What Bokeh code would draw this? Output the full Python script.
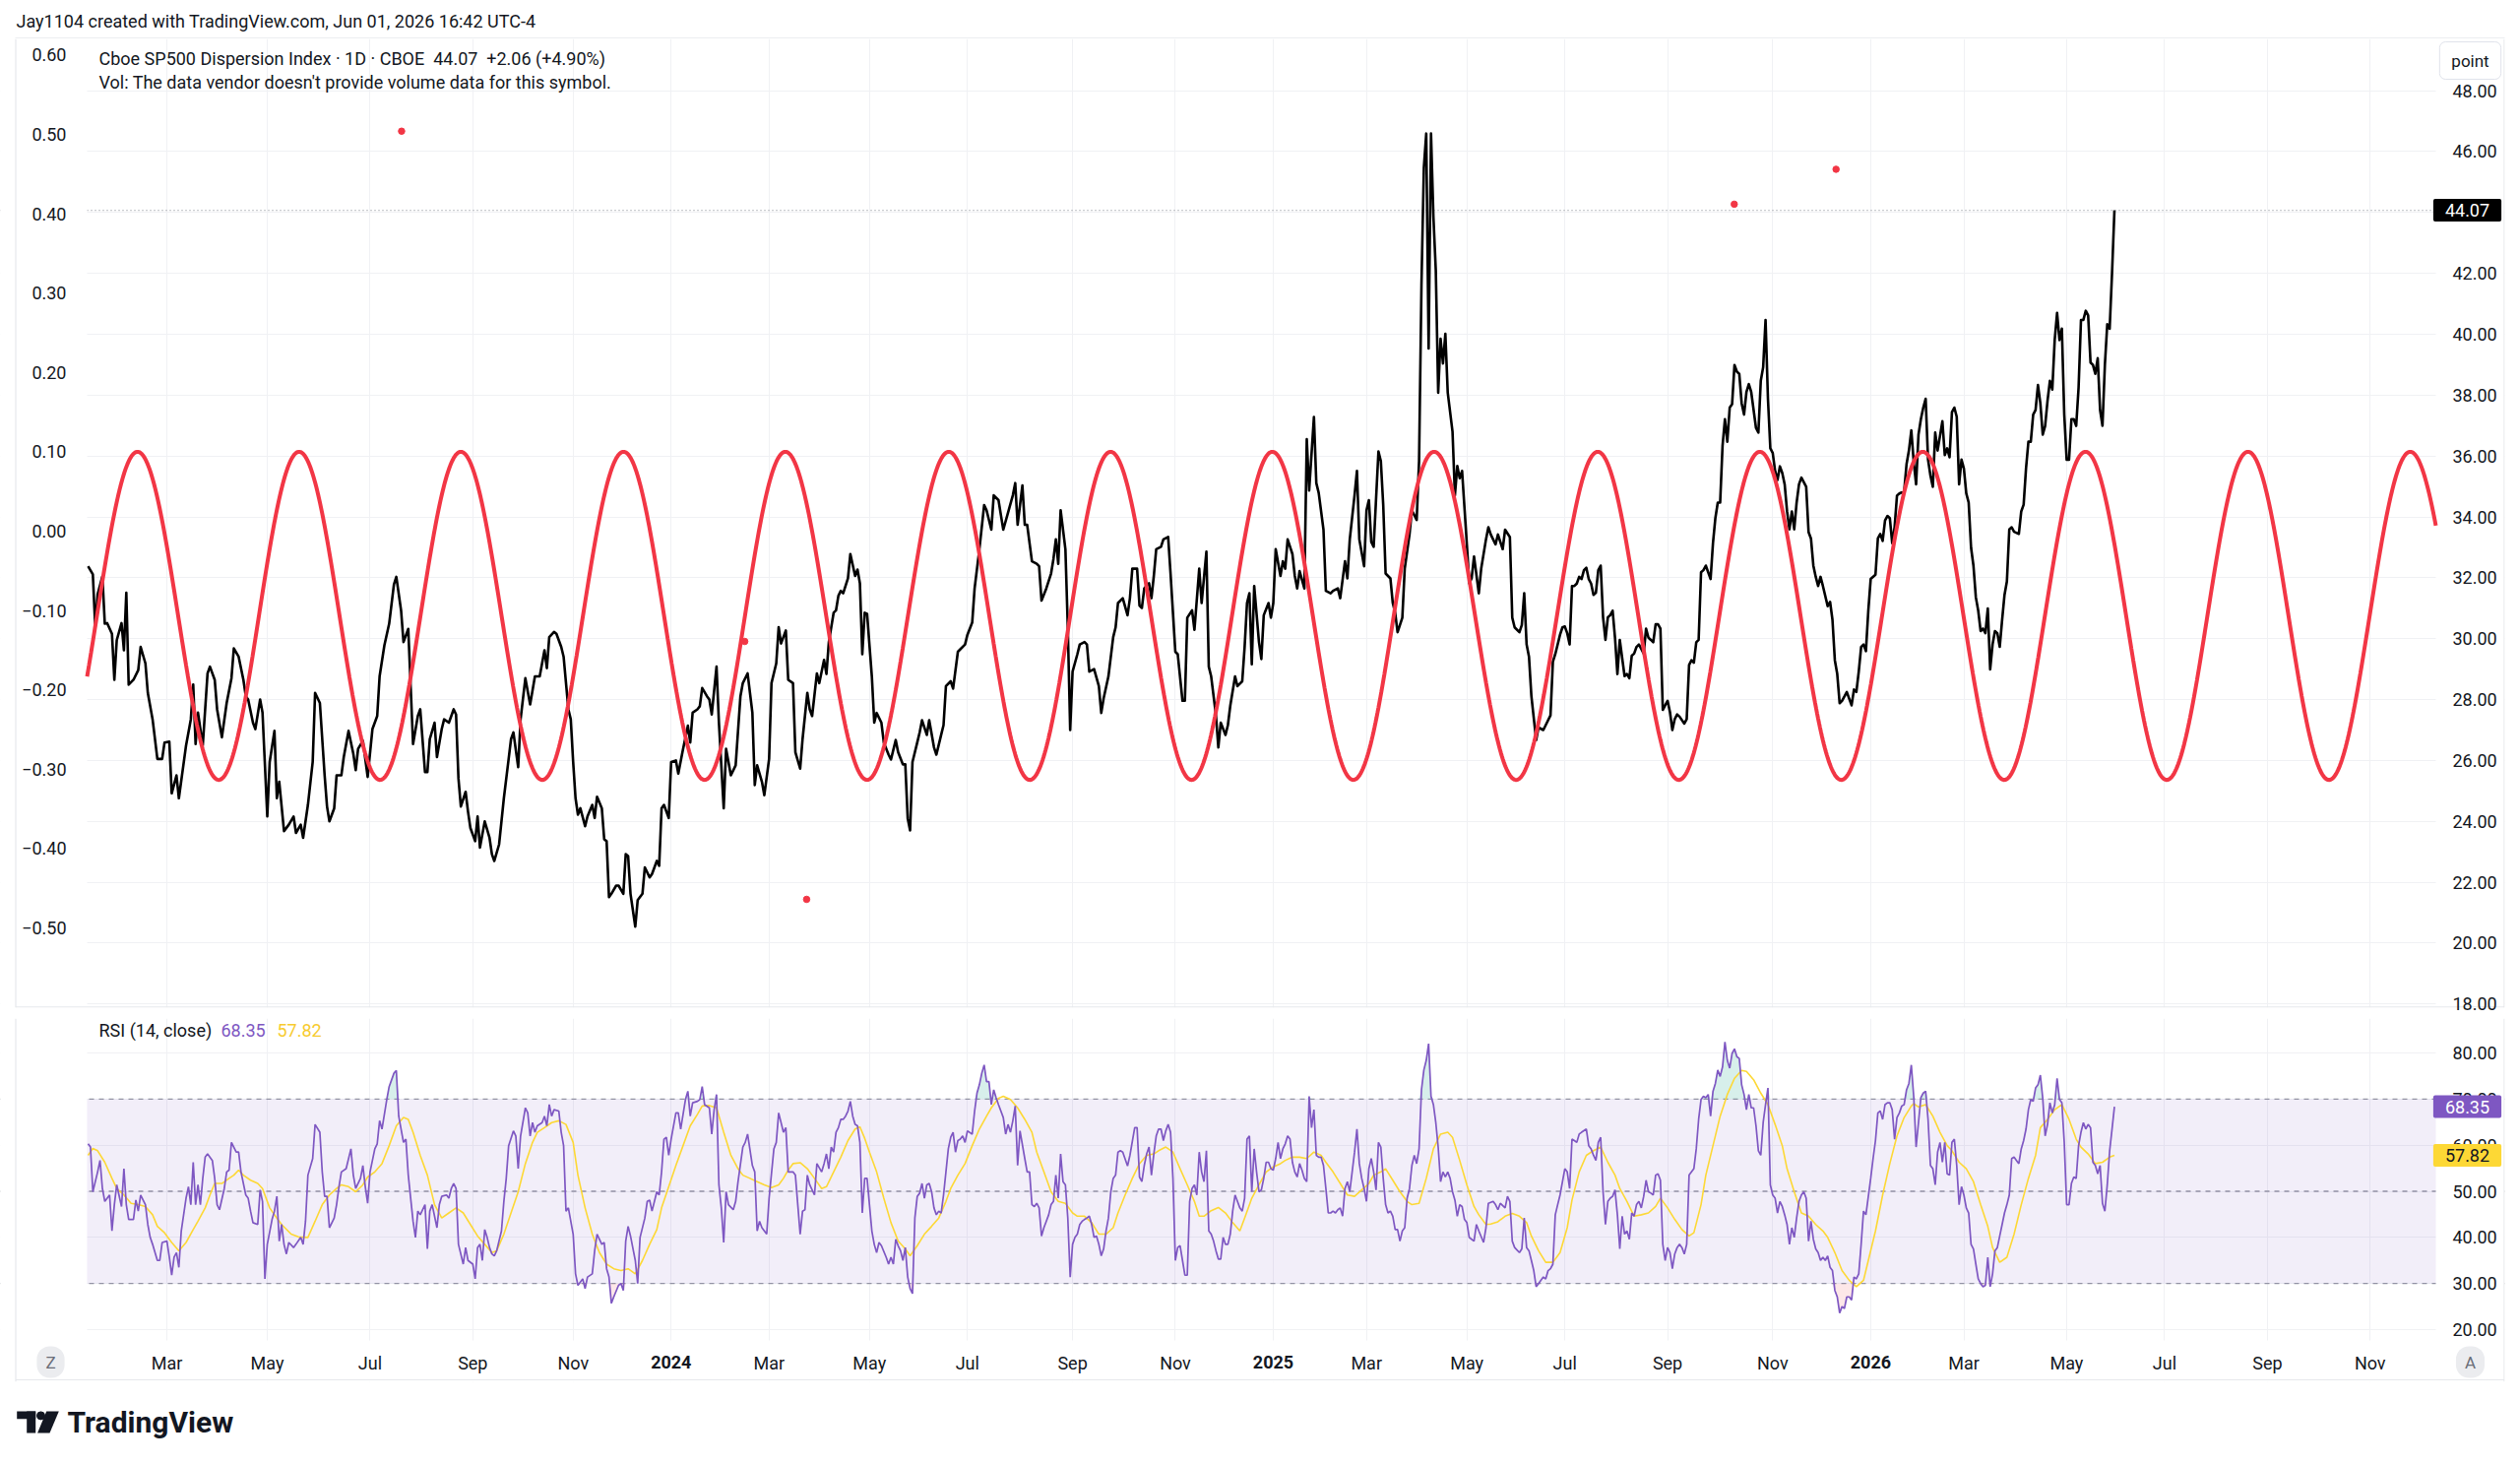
import numpy as np
import pandas as pd
from bokeh.plotting import figure
from bokeh.models import (Range1d, LinearAxis, FixedTicker, CustomJSTickFormatter,
                          NumeralTickFormatter, Span, BoxAnnotation, Label, Grid)
from bokeh.layouts import column
from bokeh.embed import file_html
from bokeh.resources import INLINE

FONT = "Roboto"
INK = "#131722"
GRID = "#F0F1F4"
BORDER = "#E6E8EC"

# ---------------- trading calendar (bar index 0 = first bar) ----------------
first_bar_date = "2023-01-10"
calendar_end = "2026-12-31"
nyse_holidays = [
    "2023-01-16", "2023-02-20", "2023-04-07", "2023-05-29", "2023-06-19", "2023-07-04",
    "2023-09-04", "2023-11-23", "2023-12-25",
    "2024-01-01", "2024-01-15", "2024-02-19", "2024-03-29", "2024-05-27", "2024-06-19",
    "2024-07-04", "2024-09-02", "2024-11-28", "2024-12-25",
    "2025-01-01", "2025-01-09", "2025-01-20", "2025-02-17", "2025-04-18", "2025-05-26",
    "2025-06-19", "2025-07-04", "2025-09-01", "2025-11-27", "2025-12-25",
    "2026-01-01", "2026-01-19", "2026-02-16", "2026-04-03", "2026-05-25", "2026-06-19",
    "2026-07-03", "2026-09-07", "2026-11-26", "2026-12-25",
]
tick_months = ["2023-03", "2023-05", "2023-07", "2023-09", "2023-11",
               "2024-01", "2024-03", "2024-05", "2024-07", "2024-09", "2024-11",
               "2025-01", "2025-03", "2025-05", "2025-07", "2025-09", "2025-11",
               "2026-01", "2026-03", "2026-05", "2026-07", "2026-09", "2026-11"]
tick_labels = ["Mar", "May", "Jul", "Sep", "Nov",
               "2024", "Mar", "May", "Jul", "Sep", "Nov",
               "2025", "Mar", "May", "Jul", "Sep", "Nov",
               "2026", "Mar", "May", "Jul", "Sep", "Nov"]

# ---------------- Cboe SP500 Dispersion Index, daily close (bar, close) ----------------
dspx_points = [
    (1, 32.38), (3, 32.11), (4, 30.38), (5, 31.46), (7, 32.05), (8, 30.49), (9, 30.51), (11, 30.16),
    (12, 28.65), (13, 29.95), (15, 30.51), (16, 29.62), (17, 31.51), (18, 28.49), (20, 28.65),
    (22, 28.97), (23, 29.73), (25, 29.19), (26, 28.22), (28, 27.35), (30, 26.05), (32, 26.05),
    (33, 26.59), (35, 26.62), (36, 24.92), (38, 25.51), (39, 24.76), (42, 26.49), (44, 27.35),
    (45, 28.49), (46, 26.54), (47, 27.57), (49, 26.49), (51, 28.86), (52, 29.08), (54, 28.65),
    (55, 27.68), (57, 26.76), (59, 27.89), (61, 28.70), (62, 29.68), (64, 29.41), (66, 28.65),
    (67, 28.11), (68, 28.00), (70, 27.24), (71, 27.03), (73, 28.00), (74, 27.57), (76, 24.16),
    (77, 25.95), (79, 26.97), (80, 24.76), (81, 25.30), (83, 23.68), (85, 23.89), (87, 24.16),
    (88, 23.62), (90, 23.89), (91, 23.46), (93, 24.54), (95, 25.95), (96, 28.22), (98, 27.89),
    (100, 25.51), (101, 24.49), (102, 24.00), (104, 24.43), (105, 25.51), (107, 25.51), (108, 26.11),
    (110, 26.97), (112, 26.22), (113, 25.68), (114, 26.38), (116, 26.65), (118, 25.46), (120, 27.03),
    (122, 27.46), (123, 28.76), (125, 29.78), (127, 30.49), (129, 31.78), (130, 32.03), (132, 30.92),
    (133, 29.89), (135, 30.32), (136, 28.43), (137, 26.54), (139, 27.46), (140, 27.68), (142, 25.62),
    (143, 25.62), (144, 26.70), (146, 27.24), (147, 26.11), (149, 27.03), (150, 27.35), (152, 27.24),
    (154, 27.68), (155, 27.51), (156, 25.41), (157, 24.49), (159, 24.97), (160, 24.32), (161, 23.78),
    (163, 23.35), (164, 24.16), (165, 23.14), (167, 24.00), (169, 23.46), (170, 22.92), (171, 22.70),
    (173, 23.24), (175, 24.76), (177, 26.05), (178, 26.70), (179, 26.92), (181, 25.78), (182, 27.35),
    (184, 28.70), (186, 27.84), (188, 28.76), (190, 28.76), (192, 29.62), (193, 29.03), (194, 30.05),
    (196, 30.22), (197, 30.16), (199, 29.73), (200, 29.41), (202, 27.68), (203, 27.35), (204, 25.95),
    (205, 24.76), (206, 24.22), (207, 24.43), (209, 23.84), (210, 24.16), (212, 24.54), (213, 24.11),
    (214, 24.81), (216, 24.43), (217, 23.41), (218, 23.35), (219, 21.51), (220, 21.62), (222, 21.89),
    (223, 21.89), (225, 21.62), (226, 22.92), (227, 22.86), (228, 21.62), (230, 20.54), (231, 21.41),
    (233, 21.62), (234, 22.49), (236, 22.16), (237, 22.27), (239, 22.70), (240, 22.54), (241, 24.43),
    (242, 24.54), (244, 24.11), (245, 25.95), (247, 26.00), (248, 25.57), (250, 26.38), (252, 27.14),
    (253, 26.59), (254, 27.57), (256, 27.68), (257, 27.78), (258, 28.38), (260, 28.11), (261, 28.00),
    (262, 27.51), (264, 29.08), (265, 27.24), (267, 24.43), (268, 26.38), (270, 25.51), (272, 25.84),
    (274, 28.11), (275, 28.54), (277, 28.86), (279, 27.57), (280, 25.19), (281, 25.84), (283, 25.30),
    (284, 24.86), (286, 26.05), (287, 28.54), (289, 29.19), (290, 30.38), (291, 29.84), (293, 30.27),
    (294, 28.65), (296, 28.54), (297, 26.27), (299, 25.73), (300, 26.70), (302, 28.22), (303, 27.68),
    (304, 27.46), (306, 28.86), (307, 28.54), (309, 29.30),
    (310, 28.84), (311, 29.89), (313, 30.85), (314, 30.93), (315, 31.41), (316, 31.57), (317, 31.49),
    (319, 31.98), (320, 32.78), (322, 32.06), (323, 32.27), (324, 31.82), (325, 29.49), (326, 30.85),
    (327, 30.82), (329, 28.76), (330, 27.24), (331, 27.56), (333, 27.24), (334, 26.59), (336, 26.19),
    (337, 26.03), (339, 26.67), (340, 26.27), (342, 25.87), (343, 25.87), (344, 24.10), (345, 23.70),
    (346, 25.95), (348, 26.59), (349, 26.92), (350, 27.32), (352, 26.84), (353, 27.32), (355, 26.43),
    (356, 26.19), (358, 26.84), (359, 27.16), (360, 28.44), (362, 28.60), (363, 28.36), (365, 29.57),
    (366, 29.65), (368, 29.81), (369, 30.13), (371, 30.53), (372, 31.65), (374, 32.94), (376, 34.39),
    (377, 34.22), (379, 33.58), (380, 34.71), (382, 34.55), (383, 34.06), (384, 33.58), (386, 34.14),
    (388, 34.71), (389, 35.11), (390, 33.74), (392, 35.03), (393, 33.74), (394, 33.74), (396, 32.54),
    (398, 32.46), (399, 32.38), (400, 31.25), (402, 31.65), (404, 32.14), (405, 32.62), (406, 33.26),
    (407, 32.46), (408, 34.22), (410, 32.94), (411, 30.37), (412, 27.00), (413, 28.92), (415, 29.49),
    (416, 29.81), (418, 29.89), (419, 29.81), (420, 28.92), (422, 29.00), (424, 28.44), (425, 27.56),
    (426, 28.04), (428, 28.76), (430, 30.05), (431, 30.37), (432, 31.17), (434, 31.33), (436, 30.77),
    (437, 31.33), (438, 32.30), (440, 32.30), (441, 31.09), (442, 31.01), (443, 31.65), (445, 31.82),
    (446, 31.33), (447, 32.06), (448, 32.94), (450, 33.02), (451, 33.26), (453, 33.34), (454, 32.14),
    (455, 30.85), (456, 29.57), (457, 29.49), (459, 27.96), (460, 27.96), (461, 30.69), (463, 30.93),
    (464, 30.29), (466, 32.30), (467, 31.17), (469, 32.86), (470, 29.08), (471, 28.76), (473, 27.48),
    (474, 26.43), (475, 27.24), (477, 26.84), (478, 27.16), (479, 27.80), (481, 28.76), (482, 28.44),
    (484, 28.60), (485, 29.73), (486, 31.17), (487, 31.49), (488, 29.16), (489, 31.73), (491, 29.89),
    (492, 29.33), (493, 30.77), (495, 31.17), (496, 30.69), (497, 31.17), (498, 32.94), (500, 32.06),
    (501, 32.54), (502, 32.30), (503, 33.26), (505, 32.78), (506, 32.06), (507, 31.65), (508, 32.22),
    (510, 31.65), (511, 36.55), (512, 34.87), (514, 37.28), (515, 35.11), (516, 34.79), (518, 33.58),
    (519, 31.57), (521, 31.49), (522, 31.57), (524, 31.65), (525, 31.33), (527, 32.54), (528, 31.98),
    (529, 33.26), (531, 34.71), (532, 35.51), (533, 33.26), (535, 32.38), (536, 34.22), (537, 34.55),
    (538, 33.18), (539, 33.02), (541, 36.15), (542, 35.83), (543, 34.39), (544, 32.14), (546, 31.98),
    (547, 31.17), (548, 30.85), (549, 30.21), (551, 30.69), (552, 32.30), (554, 33.42), (555, 34.22),
    (557, 33.90), (558, 35.83), (559, 41.61), (560, 45.47), (561, 46.59), (562, 39.53), (563, 46.59),
    (564, 43.86), (565, 42.10), (566, 38.08), (567, 39.85), (568, 39.04), (569, 40.01), (570, 38.08),
    (572, 36.80), (573, 34.71), (574, 35.67), (575, 35.27), (576, 35.51), (578, 33.10), (579, 31.82),
    (580, 31.98), (581, 32.70), (583, 31.49), (584, 32.30), (586, 33.26), (587, 33.66), (588, 33.42),
    (590, 33.10), (591, 33.42), (593, 32.94), (594, 33.58), (596, 33.34), (597, 30.69), (598, 30.37),
    (600, 30.21), (601, 30.45), (602, 31.49), (603, 29.81), (604, 29.41), (605, 28.12), (607, 26.67),
    (608, 27.08), (610, 27.00), (611, 27.16), (613, 27.48), (614, 29.24), (615, 29.49), (617, 30.13),
    (618, 30.37),
    (619, 30.40), (620, 30.18), (621, 29.81), (622, 31.73), (623, 31.73), (624, 31.81), (625, 32.03),
    (626, 31.96), (627, 32.25), (628, 32.33), (629, 31.96), (630, 31.81), (631, 31.44), (632, 31.51),
    (633, 32.25), (634, 32.40), (635, 30.70), (636, 29.96), (637, 30.70), (638, 30.77), (639, 30.92),
    (640, 30.03), (641, 28.84), (642, 29.96), (643, 29.36), (644, 28.77), (645, 28.84), (646, 28.70),
    (647, 29.44), (648, 29.51), (649, 29.73), (650, 29.81), (651, 29.66), (652, 29.51), (653, 30.33),
    (654, 30.03), (655, 29.96), (656, 29.88), (657, 30.47), (658, 30.47), (659, 30.33), (660, 27.66),
    (661, 27.81), (662, 27.96), (663, 27.59), (664, 27.00), (665, 27.36), (666, 27.51), (667, 27.44),
    (669, 27.21), (670, 27.36), (671, 29.14), (672, 29.29), (673, 29.21), (674, 29.88), (675, 29.96),
    (676, 32.18), (677, 32.25), (678, 32.40), (680, 31.96), (681, 33.14), (682, 33.96), (683, 34.47),
    (684, 34.47), (685, 36.33), (686, 37.21), (687, 36.47), (688, 37.59), (689, 37.70), (690, 38.99),
    (691, 38.77), (692, 38.70), (693, 37.73), (694, 37.36), (695, 38.10), (696, 38.36), (697, 38.10),
    (699, 36.92), (700, 36.77), (701, 38.47), (702, 38.92), (703, 40.47), (704, 37.88), (705, 36.25),
    (706, 36.10), (707, 35.51), (708, 35.21), (709, 35.66), (710, 35.44), (711, 35.07), (712, 34.18),
    (713, 33.59), (714, 34.18), (715, 33.59), (716, 34.47), (717, 35.07), (718, 35.29), (720, 34.99),
    (721, 33.50), (722, 33.29), (723, 32.40), (724, 32.03), (725, 31.73), (726, 32.03), (727, 31.73),
    (729, 31.07), (730, 31.21), (731, 30.62), (732, 29.29), (733, 28.84), (734, 27.88), (735, 27.96),
    (736, 28.10), (737, 28.25), (738, 28.03), (739, 27.81), (740, 28.33), (741, 28.25), (742, 28.92),
    (743, 29.73), (744, 29.81), (745, 29.59), (746, 30.92), (747, 31.96), (749, 32.10), (750, 33.29),
    (751, 33.44), (752, 33.21), (753, 33.88), (754, 34.03), (755, 33.96), (756, 33.14), (757, 33.66),
    (758, 34.70), (759, 34.77), (761, 34.84), (762, 35.73), (763, 36.18), (764, 36.84), (765, 35.81),
    (766, 35.07), (767, 36.70), (768, 37.21), (769, 37.59), (770, 37.88), (771, 35.88), (772, 35.36),
    (773, 34.99), (774, 36.77), (775, 36.18), (777, 37.14), (778, 36.03), (779, 36.25), (780, 35.96),
    (781, 37.44), (782, 37.59), (783, 37.29), (784, 35.07), (785, 35.88), (786, 35.59), (787, 34.77),
    (788, 34.47), (789, 32.99), (790, 32.40), (791, 31.36), (792, 30.92), (793, 30.25), (794, 30.33),
    (795, 30.18), (796, 30.99), (797, 28.99), (798, 29.81), (799, 30.25), (800, 30.18), (801, 29.73),
    (802, 30.62), (803, 31.44), (804, 31.88), (805, 33.59), (806, 33.66), (807, 33.51), (809, 33.44),
    (810, 34.18), (811, 34.40), (812, 35.59), (813, 36.47), (814, 36.47), (815, 37.36), (816, 37.51),
    (817, 38.33), (818, 37.73), (819, 36.70), (820, 36.99), (821, 37.81), (822, 38.47), (823, 38.18),
    (824, 39.81), (825, 40.70), (826, 39.81), (827, 40.18), (828, 37.36), (829, 35.88), (830, 35.88),
    (831, 37.21), (832, 37.21), (833, 36.99), (834, 38.25), (835, 40.47), (836, 40.47), (837, 40.77),
    (838, 40.62), (839, 39.07), (840, 38.99), (841, 38.70), (842, 39.21), (843, 37.51), (844, 36.99),
    (845, 38.99), (846, 40.33), (847, 40.18), (848, 42.01), (849, 44.07),
]
last_close = 44.07
last_change = "+2.06"
last_change_pct = "+4.90%"

# ---------------- red cycle indicator (left scale) ----------------
cycle_peak_bar = [21.7, 89.3, 157.0, 225.1, 292.8, 361.2, 428.9, 496.6, 564.3, 632.8,
                  700.6, 768.8, 836.9, 904.9, 972.8]
cycle_trough_bar = [-12.3, 55.7, 123.2, 191.1, 259.0, 327.0, 395.1, 462.8, 530.5, 598.6,
                    666.7, 734.7, 802.9, 870.9, 938.8, 1006.8]
cycle_high = 0.10
cycle_low = -0.3135
signal_bar = [132.2, 275.8, 301.7, 689.9, 732.5]
signal_value = [0.504, -0.139, -0.464, 0.412, 0.456]

# ---------------- RSI (14, close) and its moving average ----------------
rsi_points = [
    (1, 60.3), (2, 59.6), (3, 49.9), (5, 54.2), (6, 56.7), (7, 50.6), (8, 47.8), (10, 49.2), (11, 41.4),
    (12, 47.1), (13, 51.4), (15, 46.7), (16, 54.9), (17, 47.1), (18, 43.9), (20, 43.9), (21, 48.1),
    (22, 45.7), (23, 49.2), (25, 47.1), (26, 42.8), (27, 40.0), (28, 38.5), (30, 35.0), (31, 35.0),
    (32, 38.9), (34, 39.2), (35, 35.7), (36, 31.8), (37, 35.7), (38, 36.7), (39, 33.5), (40, 41.4),
    (42, 48.5), (43, 51.0), (44, 47.1), (45, 56.3), (46, 47.1), (47, 51.4), (48, 47.1), (49, 52.8),
    (50, 57.4), (51, 58.1), (53, 56.7), (54, 52.8), (55, 47.1), (56, 46.0), (58, 50.6), (59, 54.2),
    (60, 54.6), (61, 60.6), (63, 58.5), (64, 58.5), (65, 54.2), (67, 49.2), (68, 48.5), (69, 45.7),
    (70, 43.2), (72, 42.8), (73, 50.3), (74, 47.8), (75, 31.0), (76, 38.5), (78, 43.9), (79, 45.7),
    (80, 48.9), (81, 39.2), (82, 42.8), (83, 38.5), (84, 36.4), (85, 38.9), (87, 37.8), (88, 38.5),
    (90, 40.0), (91, 38.5), (92, 43.5), (93, 53.5), (95, 57.1), (96, 64.5), (98, 62.8), (99, 54.2),
    (100, 48.9), (101, 48.9), (102, 42.1), (104, 44.2), (105, 47.1), (106, 51.0), (107, 54.2),
    (109, 54.9), (111, 59.2), (112, 53.5), (113, 50.6), (115, 52.8), (116, 55.6), (117, 51.0),
    (118, 47.4), (119, 54.2), (121, 59.2), (122, 60.3), (123, 65.3), (124, 63.5), (126, 69.9),
    (127, 72.7), (129, 75.6), (130, 76.2), (131, 66.3), (133, 60.6), (134, 61.3), (135, 53.5),
    (137, 43.5), (138, 40.0), (139, 45.7), (140, 44.9), (142, 47.1), (143, 37.5), (144, 45.7),
    (145, 47.1), (147, 42.1), (148, 47.1), (149, 48.9), (151, 49.2), (152, 48.5), (153, 50.6),
    (154, 51.7), (155, 50.6), (156, 38.5), (158, 34.2), (159, 37.8), (160, 35.0), (162, 34.2),
    (163, 31.0), (164, 37.8), (165, 38.5), (166, 35.0), (167, 41.7), (168, 40.0), (169, 37.8),
    (170, 36.4), (171, 36.0), (172, 37.1), (174, 41.4), (175, 47.8), (176, 52.8), (177, 59.9),
    (179, 63.1), (180, 62.0), (181, 54.9), (182, 62.0), (184, 68.1), (185, 67.0), (186, 62.0),
    (187, 64.9), (188, 62.8), (189, 64.2), (191, 64.9), (192, 66.3), (193, 64.2), (194, 68.8),
    (195, 66.3), (196, 67.7), (198, 67.4), (199, 62.8), (200, 59.9), (201, 45.7), (202, 46.4),
    (204, 40.7), (205, 32.1), (206, 29.6), (208, 31.0), (209, 28.9), (210, 31.4), (212, 32.1),
    (213, 37.1), (214, 40.7), (216, 38.5), (217, 38.9), (218, 33.2), (219, 31.4), (220, 25.7),
    (221, 27.1), (223, 29.6), (224, 30.0), (225, 28.5), (226, 39.2), (227, 42.4), (228, 40.3),
    (230, 35.0), (231, 30.0), (232, 40.0), (234, 44.2), (235, 47.8), (236, 48.1), (237, 45.7),
    (239, 49.9), (240, 49.2), (241, 54.2), (242, 61.3), (243, 61.7), (244, 57.8), (245, 61.3),
    (247, 67.0), (248, 67.0), (249, 63.5), (251, 69.9), (252, 71.7), (253, 66.3), (254, 69.2),
    (256, 69.5), (257, 69.9), (258, 72.7), (259, 68.8), (261, 68.1), (262, 62.4), (263, 67.7),
    (264, 71.0), (265, 51.4), (266, 46.4), (267, 38.9), (268, 49.9), (269, 47.1), (271, 46.0),
    (272, 47.8), (273, 52.1), (275, 59.6), (276, 60.6), (277, 62.4), (279, 55.6), (280, 54.2),
    (281, 41.4), (282, 43.5), (283, 42.1), (285, 40.7), (286, 48.5), (288, 59.2), (289, 60.6),
    (290, 67.0), (292, 62.8), (293, 63.8),
    (294, 54.2), (296, 54.2), (297, 53.5), (298, 47.1), (299, 40.7), (300, 45.7), (301, 46.0),
    (302, 53.5), (303, 51.4), (305, 49.2), (306, 56.0), (308, 54.2), (309, 56.0), (310, 58.1),
    (311, 54.9), (312, 59.6), (313, 58.5), (314, 62.8), (315, 63.8), (316, 65.6), (317, 65.6),
    (318, 66.3), (319, 67.4), (320, 69.5), (321, 66.3), (322, 64.5), (323, 64.2), (324, 60.6),
    (325, 45.3), (326, 52.8), (327, 52.8), (328, 47.1), (329, 41.4), (330, 38.5), (331, 36.7),
    (332, 38.9), (333, 38.2), (335, 35.7), (336, 34.2), (337, 35.7), (338, 34.2), (339, 39.6),
    (340, 38.2), (341, 37.1), (342, 35.0), (343, 37.8), (344, 31.4), (345, 28.9), (346, 27.8),
    (347, 44.2), (348, 48.9), (349, 49.6), (350, 51.7), (351, 48.5), (352, 51.4), (353, 51.7),
    (354, 49.9), (355, 46.4), (356, 44.9), (357, 45.7), (358, 45.3), (359, 49.2), (360, 54.2),
    (361, 59.2), (362, 61.7), (363, 62.8), (364, 58.5), (365, 61.0), (366, 61.3), (367, 62.0),
    (368, 60.6), (369, 63.1), (371, 62.4), (372, 67.4), (373, 71.3), (374, 73.1), (375, 75.6),
    (376, 77.4), (377, 73.8), (378, 73.8), (379, 68.8), (380, 72.0), (381, 70.3), (382, 68.8),
    (384, 66.0), (385, 62.4), (386, 64.5), (387, 62.8), (388, 65.3), (389, 68.5), (390, 55.6),
    (391, 63.1), (393, 57.1), (394, 54.2), (395, 54.2), (396, 47.1), (397, 46.7), (398, 47.4),
    (399, 46.4), (400, 40.3), (401, 42.1), (402, 43.5), (403, 44.9), (404, 47.1), (405, 47.8),
    (406, 53.5), (407, 48.5), (408, 58.1), (409, 52.1), (410, 51.4), (411, 44.2), (412, 31.4),
    (413, 38.5), (414, 40.0), (415, 40.7), (416, 42.8), (417, 43.5), (418, 43.9), (419, 44.2),
    (420, 44.6), (421, 42.8), (422, 40.0), (423, 40.3), (424, 38.5), (425, 36.0), (426, 37.5),
    (427, 41.4), (428, 44.2), (429, 49.9), (430, 52.8), (431, 53.5), (432, 58.5), (433, 58.8),
    (434, 58.5), (436, 55.5), (437, 57.8), (439, 63.8), (440, 63.8), (441, 53.1), (442, 52.1),
    (443, 55.6), (444, 58.1), (445, 59.6), (446, 53.5), (447, 58.1), (448, 62.0), (449, 63.5),
    (450, 63.5), (451, 61.0), (452, 63.1), (453, 64.5), (454, 62.8), (455, 52.8), (456, 35.0),
    (457, 37.8), (458, 38.2), (459, 35.0), (460, 31.8), (461, 31.8), (462, 47.8), (463, 50.6),
    (464, 51.4), (465, 49.2), (466, 58.5), (467, 54.2), (468, 52.1), (469, 58.8), (470, 41.4),
    (471, 40.7), (472, 39.2), (473, 37.1), (474, 35.3), (475, 35.3), (476, 40.0), (477, 38.5),
    (478, 38.5), (479, 40.7), (480, 45.7), (481, 49.2), (482, 47.8), (483, 46.4), (484, 45.7),
    (485, 48.5), (486, 61.3), (487, 62.0), (488, 49.9), (489, 59.2), (490, 54.2), (491, 49.9),
    (492, 50.3), (493, 52.8), (494, 56.3), (495, 56.3), (496, 54.9), (497, 54.6), (498, 57.1),
    (499, 60.6), (500, 57.1), (501, 59.2), (502, 60.3), (503, 62.0), (504, 61.3), (505, 56.3),
    (506, 54.2), (507, 53.1), (508, 56.0), (509, 54.6), (510, 52.8), (511, 52.1), (512, 70.6),
    (513, 63.8), (514, 67.7), (515, 57.8), (516, 57.4), (517, 57.4), (518, 55.6), (519, 50.6),
    (520, 45.3), (521, 45.3), (522, 45.7), (523, 45.3), (524, 46.0), (525, 46.4), (526, 44.6),
    (527, 50.6), (528, 52.1), (529, 49.9), (530, 54.2), (531, 58.5), (532, 63.5), (533, 56.0),
    (534, 52.8), (535, 50.6), (536, 47.8), (537, 54.9), (538, 57.1), (539, 54.2), (540, 50.3),
    (541, 60.6), (542, 59.6), (543, 52.8), (544, 47.1), (545, 45.3), (546, 45.7), (547, 44.6),
    (548, 41.7), (549, 41.7), (550, 39.2), (551, 41.4), (552, 42.1), (553, 48.5), (554, 50.6),
    (555, 55.6), (556, 57.8), (557, 56.0), (558, 59.2), (559, 72.0), (560, 76.3), (561, 78.4),
    (562, 82.0), (563, 70.6), (564, 68.8), (565, 64.9), (566, 59.6), (567, 52.1), (568, 54.2),
    (569, 53.1), (570, 54.2), (571, 52.8), (572, 49.9), (573, 48.1), (574, 44.6), (575, 47.1),
    (576, 46.7), (577, 43.9), (578, 43.2), (579, 40.0), (580, 39.6), (581, 39.2), (582, 42.8),
    (583, 41.4), (585, 38.9), (586, 42.1), (587, 47.4), (589, 47.8), (590, 47.1), (591, 46.0),
    (592, 47.4), (594, 46.4), (595, 48.9), (596, 47.8), (597, 39.2), (598, 37.8), (600, 36.7),
    (601, 37.5), (602, 44.2), (603, 37.8), (604, 37.1), (605, 35.0), (606, 32.8), (607, 29.3),
    (608, 30.0), (610, 31.4), (611, 31.0), (612, 32.8), (613, 33.2), (614, 34.2), (615, 44.9),
    (616, 47.1), (617, 49.2), (619, 54.9), (620, 54.2), (621, 50.6), (622, 61.3), (623, 61.0),
    (624, 60.6), (625, 62.4), (626, 62.8), (628, 63.5), (629, 59.9), (630, 59.2), (631, 57.8),
    (632, 56.7), (633, 60.6), (634, 61.7), (635, 49.9), (636, 42.8), (637, 47.8), (638, 48.5),
    (639, 48.9), (640, 50.3), (641, 44.9), (642, 37.5), (643, 44.6), (644, 40.7), (645, 41.4),
    (646, 39.6), (647, 45.3), (648, 44.6), (649, 47.1), (650, 47.8), (651, 46.4), (652, 48.9),
    (653, 52.4), (654, 49.9), (655, 49.6), (656, 49.2), (657, 53.5), (658, 53.8), (659, 52.4),
    (660, 38.5), (661, 35.0), (662, 37.8), (663, 36.7), (664, 33.2), (665, 36.4), (666, 37.8),
    (667, 38.5), (668, 37.8), (669, 36.4), (670, 38.5), (671, 53.5), (672, 54.2), (673, 54.9),
    (674, 59.2), (675, 65.6), (676, 69.9), (677, 70.6), (678, 70.3), (679, 71.0), (680, 66.3),
    (681, 71.7), (682, 73.4), (683, 76.3), (684, 74.9), (685, 77.0), (686, 82.4), (687, 78.4),
    (688, 76.7), (689, 79.9), (690, 80.9), (691, 79.2), (692, 78.8), (693, 73.1), (694, 71.0),
    (695, 67.7), (696, 71.0), (697, 68.1), (698, 68.1), (699, 64.2), (700, 58.8), (701, 57.8),
    (702, 64.9), (703, 68.8), (704, 72.4), (705, 51.4), (706, 49.2), (707, 48.5), (708, 45.3),
    (709, 47.8), (710, 46.7), (711, 44.9), (712, 42.8), (713, 38.5), (714, 42.1), (715, 40.0),
    (716, 44.2), (717, 47.8), (718, 49.2), (719, 49.9), (720, 48.5), (721, 39.2), (722, 43.5),
    (723, 39.6), (724, 37.5), (725, 36.7), (726, 35.0), (727, 35.7), (728, 35.0), (729, 36.0),
    (730, 33.5), (731, 32.8), (732, 28.5), (733, 27.1), (734, 23.6), (735, 25.0), (736, 24.6),
    (737, 27.1), (738, 27.1), (739, 26.4), (740, 31.4), (741, 31.0), (742, 32.1), (743, 38.5),
    (744, 45.7), (745, 44.9), (747, 52.8), (748, 57.1), (749, 61.0), (750, 67.0), (751, 67.4),
    (752, 65.6), (753, 68.8), (754, 69.2), (755, 69.2), (756, 67.7), (757, 61.3), (758, 66.0),
    (759, 67.0), (760, 68.5), (761, 68.8), (762, 72.0), (763, 73.4), (764, 77.4), (765, 70.6),
    (766, 59.6), (767, 64.9), (768, 70.3), (769, 71.3), (770, 71.7), (771, 65.6), (772, 55.6),
    (773, 54.9), (774, 51.4), (775, 58.5), (776, 60.6), (777, 56.3), (778, 60.6), (779, 53.8),
    (780, 53.5), (781, 60.6), (782, 61.3), (783, 55.6), (784, 47.1), (785, 51.0), (786, 49.2),
    (787, 46.4), (788, 45.3), (789, 38.5), (790, 37.5), (791, 34.2), (792, 31.0), (793, 30.0),
    (794, 29.3), (795, 29.6), (796, 35.7), (797, 29.3), (798, 32.1), (799, 37.1), (800, 37.8),
    (801, 40.3), (802, 42.8), (803, 45.3), (804, 47.1), (805, 49.2), (806, 57.1), (807, 57.4),
    (808, 56.7), (809, 56.0), (810, 59.2), (811, 61.0), (812, 63.5), (813, 67.7), (814, 69.9),
    (815, 69.5), (816, 72.4), (817, 73.1), (818, 75.2), (819, 70.2), (820, 62.0), (821, 64.5),
    (822, 69.2), (823, 67.0), (824, 68.8), (825, 74.5), (826, 69.9), (827, 69.2), (828, 60.6),
    (829, 47.1), (830, 47.1), (831, 51.7), (832, 53.1), (833, 52.8), (834, 59.9), (835, 62.8),
    (836, 64.9), (837, 63.5), (838, 64.5), (839, 63.8), (840, 56.3), (841, 55.6), (842, 53.8),
    (843, 55.6), (844, 47.4), (845, 45.7), (846, 51.4), (847, 58.8), (848, 63.5), (849, 68.35),
]
rsi_ma_points = [
    (1, 57.8), (3, 59.3), (5, 58.8), (8, 56.3), (11, 52.8), (13, 50.6), (16, 49.2), (19, 47.4),
    (22, 47.1), (25, 46.7), (28, 44.9), (30, 42.4), (33, 41.0), (36, 38.9), (39, 37.1), (42, 38.9),
    (45, 41.7), (47, 43.5), (50, 46.4), (52, 49.2), (54, 51.7), (57, 51.7), (60, 52.8), (62, 53.5),
    (64, 54.6), (66, 53.5), (69, 52.4), (72, 51.7), (74, 50.6), (77, 46.4), (80, 44.2), (82, 42.8),
    (86, 40.7), (89, 40.1), (93, 40.0), (96, 43.5), (99, 47.1), (102, 49.2), (105, 50.6), (107, 51.4),
    (110, 51.0), (113, 49.9), (116, 51.4), (118, 53.1), (121, 54.2), (124, 56.0), (127, 59.9),
    (130, 64.2), (133, 66.0), (135, 65.6), (137, 62.8), (140, 57.8), (143, 53.5), (146, 47.1),
    (149, 44.2), (152, 45.3), (155, 46.4), (158, 45.3), (161, 42.8), (164, 40.3), (167, 38.5),
    (170, 36.7), (172, 37.1), (175, 40.7), (178, 45.3), (181, 49.9), (184, 56.0), (187, 60.6),
    (189, 62.8), (192, 63.8), (195, 64.9), (198, 65.3), (201, 64.5), (204, 60.6), (206, 53.5),
    (209, 46.4), (212, 40.7), (215, 36.7), (218, 34.2), (221, 33.2), (224, 32.8), (227, 33.2),
    (230, 32.1), (233, 35.0), (236, 38.5), (239, 41.7), (241, 46.4), (244, 51.0), (247, 55.6),
    (250, 59.9), (253, 64.2), (256, 66.7), (258, 68.5), (261, 68.6), (264, 68.1), (267, 62.8),
    (270, 57.8), (273, 54.9), (275, 53.5), (278, 52.8), (281, 52.1), (284, 51.4), (287, 50.8),
    (290, 51.4), (292, 52.8), (294, 54.6), (296, 56.0), (299, 56.2), (302, 54.9), (305, 52.8),
    (308, 50.6), (310, 51.0), (313, 54.2), (316, 57.4), (319, 61.0), (322, 63.5), (324, 64.0),
    (326, 61.5), (328, 58.5), (331, 54.2), (334, 48.5), (337, 43.2), (340, 39.2), (343, 37.5),
    (345, 36.0), (348, 38.2), (351, 40.7), (354, 42.4), (357, 44.2), (360, 47.8), (362, 50.6),
    (365, 53.5), (368, 56.0), (371, 59.9), (374, 63.5), (377, 66.3), (379, 68.1), (382, 70.2),
    (384, 70.6), (387, 69.9), (390, 68.1), (393, 65.6), (396, 62.8), (398, 58.5), (401, 54.2),
    (404, 49.9), (407, 47.8), (410, 47.4), (413, 45.3), (415, 44.6), (418, 44.6), (421, 43.2),
    (424, 40.7), (427, 40.7), (430, 42.1), (432, 45.3), (435, 49.2), (438, 52.8), (441, 56.0),
    (444, 57.8), (447, 58.1), (449, 58.8), (452, 59.6), (455, 58.5), (458, 54.9), (461, 51.4),
    (464, 47.8), (466, 44.6), (468, 44.6), (471, 45.8), (474, 46.5), (477, 45.3), (480, 43.2),
    (483, 41.4), (485, 44.2), (488, 48.5), (491, 51.4), (494, 54.2), (497, 55.3), (500, 56.0),
    (502, 56.7), (505, 57.4), (508, 57.4), (511, 57.1), (514, 58.5), (517, 57.8), (519, 56.3),
    (522, 54.2), (525, 51.7), (528, 49.2), (531, 48.9), (534, 50.3), (537, 51.7), (539, 53.5),
    (542, 54.2), (544, 54.9), (547, 52.4), (550, 49.9), (553, 47.8), (555, 47.1), (558, 47.4),
    (561, 52.8), (564, 59.2), (567, 62.4), (570, 62.8), (572, 61.7), (575, 56.7), (578, 51.4),
    (581, 46.7), (583, 44.9), (586, 42.8), (588, 42.9), (591, 43.4), (594, 44.6), (597, 45.2),
    (600, 44.6), (603, 43.2), (605, 40.3), (608, 37.1), (611, 34.6), (614, 34.6), (617, 36.7),
    (620, 42.1), (622, 48.1), (625, 54.2), (628, 57.8), (631, 58.8), (634, 59.6), (637, 56.3),
    (640, 53.5), (642, 50.6), (645, 47.8), (648, 44.6), (651, 44.9), (654, 45.3), (657, 46.7),
    (659, 48.5), (662, 46.4), (665, 43.9), (668, 41.7), (671, 40.3), (673, 41.0), (676, 47.1),
    (678, 53.5), (681, 59.9), (684, 66.3), (687, 71.0), (690, 74.5), (693, 76.2), (695, 76.0),
    (698, 74.2), (701, 71.3), (704, 68.8), (707, 64.5), (710, 59.9), (712, 54.9), (715, 49.9),
    (718, 45.3), (721, 44.6), (724, 42.8), (727, 41.4), (729, 40.0), (732, 36.7), (735, 32.8),
    (738, 30.7), (741, 29.3), (744, 30.7), (746, 35.0), (749, 41.4), (752, 49.2), (755, 56.0),
    (758, 62.0), (761, 66.0), (764, 68.5), (765, 69.0), (767, 68.3), (770, 68.8), (773, 66.3),
    (776, 62.8), (779, 59.9), (781, 58.8), (784, 56.3), (787, 54.9), (790, 52.1), (793, 47.1),
    (796, 42.4), (798, 37.8), (801, 34.6), (804, 35.7), (807, 40.7), (810, 47.1), (813, 52.8),
    (816, 57.8), (818, 63.8), (821, 65.6), (824, 67.7), (827, 68.8), (830, 65.6), (833, 61.3),
    (835, 59.6), (838, 58.1), (841, 56.0), (844, 56.3), (847, 57.4), (849, 57.82),
]
rsi_last = 68.35
rsi_ma_last = 57.82

price_ticks = [18, 20, 22, 24, 26, 28, 30, 32, 34, 36, 38, 40, 42, 44, 46, 48]
cycle_ticks = [-0.5, -0.4, -0.3, -0.2, -0.1, 0.0, 0.1, 0.2, 0.3, 0.4, 0.5, 0.6]
rsi_ticks = [20, 30, 40, 50, 60, 70, 80]
rsi_levels = [70, 50, 30]

# ---------------- layout constants (pixels) ----------------
PAGE_W = 2560
PLOT_L, PLOT_R, SCALE_R = 88, 2474, 2544           # data area and price-scale edge
BOX_L = 15                                          # outer chart border
X0, XD = 0.6, 983.5                                 # bars visible at data-area edges
BPP = (XD - X0) / (PLOT_R - PLOT_L)                 # bars per pixel
XM1 = XD + (SCALE_R - PLOT_R) * BPP                 # frame right edge (price-scale area)
XF0 = X0 - PLOT_L * BPP                             # frames start at the page edge
XB0 = XF0 + (BOX_L + 0.5) * BPP                     # outer border, left
XB1 = XF0 + (SCALE_R - 0.5) * BPP                   # outer border, right
PY0, PY1 = 17.88, 49.70                             # main pane price range (page y 1023..39)
PRICE_PX = (1023 - 39) / (PY1 - PY0)
PYS = PY0 + 0.6 / PRICE_PX                          # pane separator
CY0, CY1 = -0.6005, 0.6203                          # main pane left (cycle) range
RY0, RY1 = 17.65, 89.40                             # RSI values at page y 1361 and 1025
RSI_PX = (1361 - 1025) / (RY1 - RY0)
RSI_TOP = 1034                                      # RSI figure frame top (page y)
RYT = RY1 - (RSI_TOP - 1025) / RSI_PX
RYF0 = RY0 - (1403 - 1361) / RSI_PX                 # RSI frame includes the time-axis row
RYB = RYF0 + 2.0 / RSI_PX                           # outer border, bottom (page y 1401)

# ---------------- derived ----------------
hol = pd.to_datetime(nyse_holidays)
days = pd.bdate_range(first_bar_date, calendar_end)
days = days[~days.isin(hol)]
tick_bar = [int(np.searchsorted(days.values, np.datetime64(m + "-01"))) for m in tick_months]

dspx_bar, dspx_close = [list(v) for v in zip(*dspx_points)]
rsi_bar, rsi_val = [np.array(v) for v in zip(*rsi_points)]
ma_bar, ma_val = [list(v) for v in zip(*rsi_ma_points)]

ext = sorted([(b, cycle_high) for b in cycle_peak_bar] + [(b, cycle_low) for b in cycle_trough_bar])
ext_x = np.array([e[0] for e in ext]); ext_y = np.array([e[1] for e in ext])
cyc_x = np.linspace(X0, XD, 2400)
seg = np.clip(np.searchsorted(ext_x, cyc_x) - 1, 0, len(ext_x) - 2)
tt = (cyc_x - ext_x[seg]) / (ext_x[seg + 1] - ext_x[seg])
cyc_y = ext_y[seg] + (ext_y[seg + 1] - ext_y[seg]) * (1 - np.cos(np.pi * tt)) / 2


def make_fig(**kw):
    f = figure(output_backend="svg", toolbar_location=None, **kw)
    if "frame_align" in f.properties():
        f.frame_align = False
    f.outline_line_color = None
    f.background_fill_color = "white"
    f.border_fill_color = "white"
    return f


def style_axis(ax, standoff, size="18px"):
    ax.axis_line_color = None
    ax.major_tick_line_color = None
    ax.minor_tick_line_color = None
    ax.major_label_text_font = FONT
    ax.major_label_text_font_size = size
    ax.major_label_text_color = INK
    ax.major_label_standoff = standoff


def add_grids(fig, yticks):
    fig.grid.visible = False
    fig.add_layout(Grid(dimension=0, ticker=FixedTicker(ticks=tick_bar), grid_line_color=GRID,
                        grid_line_width=1, level="underlay"))
    fig.add_layout(Grid(dimension=1, ticker=FixedTicker(ticks=yticks), grid_line_color=GRID,
                        grid_line_width=1, level="underlay"))


def cover(fig, **kw):
    fig.add_layout(BoxAnnotation(fill_color="white", fill_alpha=1, line_color=None,
                                 level="underlay", **kw))


def vborders(fig):
    for xb in (XB0, XB1):
        fig.add_layout(Span(location=xb, dimension="height", line_color=BORDER, line_width=1.2))


def txt(fig, x, y, text, xo=0, yo=0, color=INK, size="18px", align="left", bold=False, **kw):
    fig.add_layout(Label(x=x, y=y, x_offset=xo, y_offset=yo, text=text, text_font=FONT,
                         text_font_size=size, text_color=color, text_align=align,
                         text_baseline="middle", text_font_style="bold" if bold else "normal", **kw))


# ================= header row =================
h = make_fig(width=PAGE_W, height=39, x_range=Range1d(0, PAGE_W), y_range=Range1d(0, 39),
             x_axis_location=None, y_axis_location=None, min_border=0)
h.grid.visible = False
txt(h, 16, 18, "Jay1104 created with TradingView.com, Jun 01, 2026 16:42 UTC-4")
h.segment(x0=[BOX_L], x1=[SCALE_R], y0=[0.6], y1=[0.6], line_color=BORDER, line_width=1.2)

# ================= main pane =================
p = make_fig(width=PAGE_W, height=RSI_TOP - 39, x_range=Range1d(XF0, XM1), y_range=Range1d(PY0, PY1),
             x_axis_location=None, y_axis_location="right",
             min_border_left=0, min_border_right=PAGE_W - SCALE_R, min_border_top=0,
             min_border_bottom=RSI_TOP - 1023)
add_grids(p, price_ticks)
ra = p.yaxis[0]
ra.ticker = FixedTicker(ticks=price_ticks)
ra.formatter = NumeralTickFormatter(format="0.00")
style_axis(ra, 2485 - SCALE_R)

p.extra_y_ranges = {"cycle": Range1d(CY0, CY1)}
la = LinearAxis(y_range_name="cycle", ticker=FixedTicker(ticks=cycle_ticks),
                formatter=CustomJSTickFormatter(code="return (tick < -1e-9 ? '\\u2212' : '') + Math.abs(tick).toFixed(2);"))
style_axis(la, -73)
p.add_layout(la, "left")

p.add_layout(Span(location=last_close, dimension="width", line_color="#9598A1",
                  line_dash="1 3", line_width=1.2, level="underlay"))
cover(p, left=XD)
cover(p, right=X0)
vborders(p)
p.segment(x0=[XB0], x1=[XB1], y0=[PYS], y1=[PYS], line_color=BORDER, line_width=1.2)

p.line(dspx_bar, dspx_close, line_color="#000000", line_width=2.6, line_join="round")
p.line(cyc_x, cyc_y, y_range_name="cycle", line_color="#F23645", line_width=4)
p.scatter(signal_bar, signal_value, y_range_name="cycle", size=6.5, color="#F23645")

txt(p, X0, PY1, "Cboe SP500 Dispersion Index \u00b7 1D \u00b7 CBOE\u00a0\u00a0%.2f\u00a0\u00a0%s (%s)"
    % (last_close, last_change, last_change_pct), xo=12, yo=-20)
txt(p, X0, PY1, "Vol: The data vendor doesn't provide volume data for this symbol.", xo=12, yo=-44)
txt(p, XD, PY1, "point", xo=35, yo=-22, align="center", size="17px",
    background_fill_color="white", border_line_color="#E0E3EB", border_radius=6, padding=(12, 9))
txt(p, XD, last_close, "%.2f" % last_close, xo=32, align="center", color="white",
    background_fill_color="#000000", border_radius=2, padding=(12, 5))

# ================= RSI pane + time axis =================
r = make_fig(width=PAGE_W, height=1405 - RSI_TOP, x_range=Range1d(XF0, XM1), y_range=Range1d(RYF0, RYT),
             y_axis_location="right",
             min_border_left=0, min_border_right=PAGE_W - SCALE_R, min_border_top=0, min_border_bottom=2)
add_grids(r, rsi_ticks)
rra = r.yaxis[0]
rra.ticker = FixedTicker(ticks=rsi_ticks)
rra.formatter = NumeralTickFormatter(format="0.00")
style_axis(rra, 2485 - SCALE_R)
xa = r.xaxis[0]
xa.ticker = FixedTicker(ticks=tick_bar)
xa.major_label_overrides = {b: ("" if lab.isdigit() else lab) for b, lab in zip(tick_bar, tick_labels)}
style_axis(xa, -36)

for lv in rsi_levels:
    r.add_layout(Span(location=lv, dimension="width", line_color="#9598A1", line_dash="5 5",
                      line_width=1.4, level="underlay"))
cover(r, left=XD)
cover(r, right=X0)
cover(r, top=RY0)
r.add_layout(BoxAnnotation(left=X0, right=XD, bottom=30, top=70, fill_color="#7E57C2", fill_alpha=0.1,
                           line_color=None, level="underlay"))
vborders(r)
r.segment(x0=[XB0], x1=[XB1], y0=[RYB], y1=[RYB], line_color=BORDER, line_width=1.2)

r.varea(rsi_bar, np.maximum(rsi_val, 70), 70, fill_color="#089981", fill_alpha=0.16)
r.varea(rsi_bar, np.minimum(rsi_val, 30), 30, fill_color="#F23645", fill_alpha=0.12)
r.line(ma_bar, ma_val, line_color="#FDD835", line_width=1.6)
r.line(list(rsi_bar), list(rsi_val), line_color="#7E57C2", line_width=1.7)

txt(r, X0, RYT, "RSI (14, close)", xo=12, yo=-(1046 - RSI_TOP))
txt(r, X0, RYT, "%.2f" % rsi_last, xo=136, yo=-(1046 - RSI_TOP), color="#7E57C2")
txt(r, X0, RYT, "%.2f" % rsi_ma_last, xo=193, yo=-(1046 - RSI_TOP), color="#F7CB2F")
txt(r, XD, rsi_last, "%.2f" % rsi_last, xo=32, align="center", color="white",
    background_fill_color="#7E57C2", border_radius=2, padding=(12, 5))
txt(r, XD, rsi_ma_last, "%.2f" % rsi_ma_last, xo=32, align="center", color=INK,
    background_fill_color="#FDD835", border_radius=2, padding=(12, 5))

for b, lab in zip(tick_bar, tick_labels):
    if lab.isdigit():
        txt(r, b, RY0, lab, yo=-22, align="center", bold=True)
txt(r, X0, RY0, "Z", xo=51 - PLOT_L, yo=-22, align="center", color="#6A6D78", size="17px",
    background_fill_color="#EBECEF", border_radius=13, padding=(9, 6))
txt(r, XD, RY0, "A", xo=2509 - PLOT_R, yo=-22, align="center", color="#6A6D78", size="17px",
    background_fill_color="#EBECEF", border_radius=13, padding=(9, 6))

# ================= footer logo =================
g = make_fig(width=PAGE_W, height=70, x_range=Range1d(0, PAGE_W), y_range=Range1d(0, 70),
             x_axis_location=None, y_axis_location=None, min_border=0)
g.grid.visible = False
g.quad(left=[16.7, 26.7], right=[35.7, 35.7], bottom=[34.3, 20], top=[42, 42], color=INK, line_color=None)
g.scatter([41], [37.6], size=8, color=INK)
g.patch([46.7, 59.3, 50, 37.6], [42, 42, 20, 20], color=INK, line_color=None)
g.add_layout(Label(x=68, y=31, text="TradingView", text_font=FONT, text_font_size="30px",
                   text_font_style="bold", text_color=INK, text_baseline="middle"))

layout = column(column(h), column(p), column(r), column(g), spacing=0)
open("out.html", "w").write(file_html(layout, INLINE))
